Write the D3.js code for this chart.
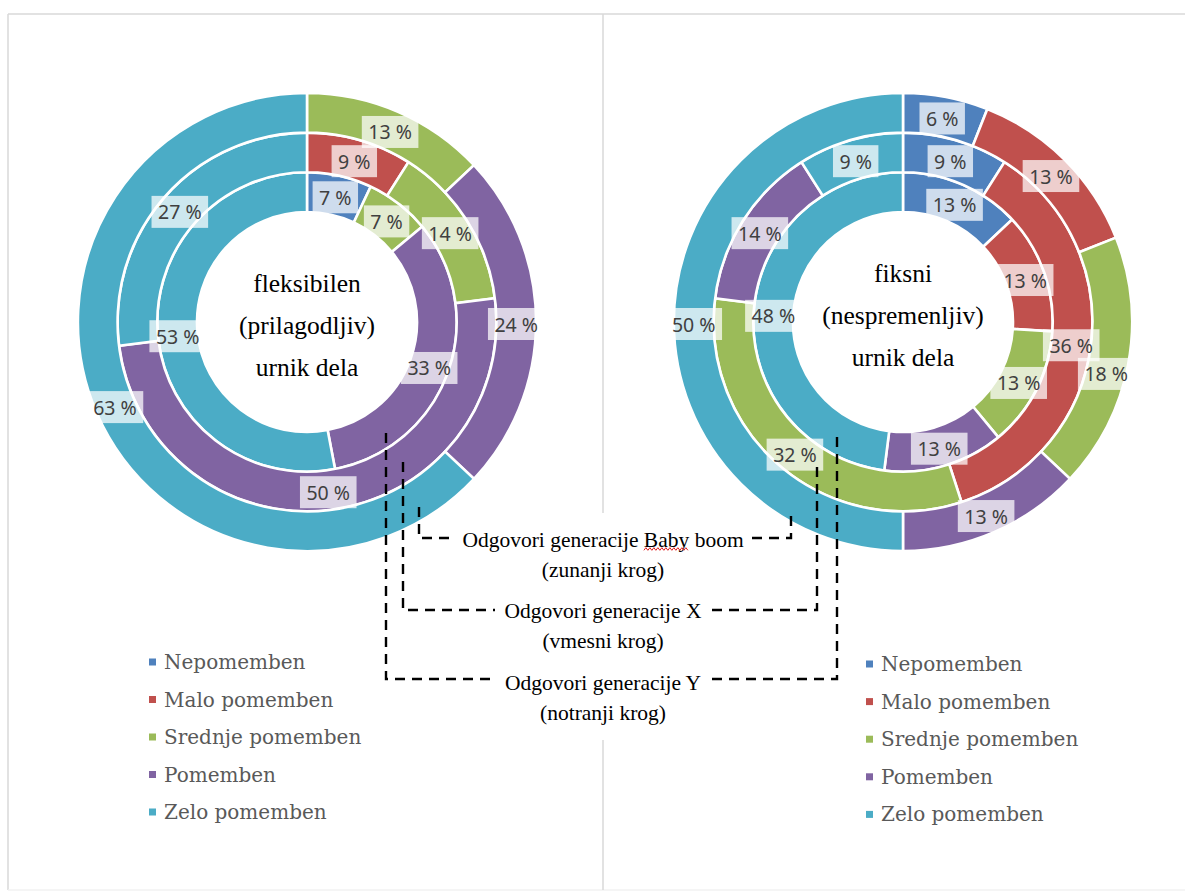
<!DOCTYPE html>
<html>
<head>
<meta charset="utf-8">
<script src="https://cdn.jsdelivr.net/npm/d3@7/dist/d3.min.js"></script>
<style>
  html, body { margin: 0; padding: 0; background: #fff; }
  svg { display: block; }
</style>
</head>
<body>
<svg id="chart" width="1185" height="895"></svg>
<script>
// Answer categories (legend order) and their colours
const categories = ["Nepomemben", "Malo pomemben", "Srednje pomemben", "Pomemben", "Zelo pomemben"];
const palette = ["#4F81BD", "#C0504D", "#9BBB59", "#8064A2", "#4BACC6"];

// Flexible working hours: shares (%) per generation, inner -> outer ring
const flexGenY = [7, 0, 7, 33, 53];
const flexGenX = [0, 9, 14, 50, 27];
const flexBabyBoom = [0, 0, 13, 24, 63];

// Fixed working hours: shares (%) per generation, inner -> outer ring
const fixedGenY = [13, 13, 13, 13, 48];
const fixedGenX = [9, 36, 32, 14, 9];
const fixedBabyBoom = [6, 13, 18, 13, 50];

// Text in the hole of each doughnut
const flexTitle = ["fleksibilen", "(prilagodljiv)", "urnik dela"];
const fixedTitle = ["fiksni", "(nespremenljiv)", "urnik dela"];

// Ring annotations (outer, middle, inner)
const ringNotes = [
  ["Odgovori generacije Baby boom", "(zunanji krog)"],
  ["Odgovori generacije X", "(vmesni krog)"],
  ["Odgovori generacije Y", "(notranji krog)"]
];

const svg = d3.select("#chart");

// ---- panel frame -------------------------------------------------------
const frame = svg.append("g").attr("stroke", "#d9d9d9").attr("stroke-width", 1.5);
frame.append("line").attr("x1", 8).attr("x2", 1185).attr("y1", 14).attr("y2", 14);
frame.append("line").attr("x1", 8).attr("x2", 8).attr("y1", 14).attr("y2", 890);
frame.append("line").attr("x1", 8).attr("x2", 1185).attr("y1", 890).attr("y2", 890).attr("stroke", "#f2f2f2");
frame.append("line").attr("x1", 603).attr("x2", 603).attr("y1", 14).attr("y2", 513);
frame.append("line").attr("x1", 603).attr("x2", 603).attr("y1", 740).attr("y2", 890);

// ---- doughnuts ---------------------------------------------------------
const holeR = 110, bandW = 39.7;
const pie = d3.pie().sort(null).value(d => d.v).startAngle(0).endAngle(2 * Math.PI);
const color = d3.scaleOrdinal().domain(categories).range(palette);

function drawDoughnut(cx, cy, rings, title, titleY) {
  const g = svg.append("g").attr("transform", `translate(${cx},${cy})`);
  const arcsG = g.append("g");
  const labelsG = g.append("g");
  const placed = [];

  rings.forEach((values, ri) => {
    const r0 = holeR + bandW * ri, r1 = r0 + bandW;
    const arc = d3.arc().innerRadius(r0).outerRadius(r1);
    const data = pie(values.map((v, i) => ({ v, cat: categories[i] })));
    arcsG.selectAll(null).data(data.filter(d => d.data.v > 0)).enter()
      .append("path")
      .attr("d", arc)
      .attr("fill", d => color(d.data.cat))
      .attr("stroke", "#fff")
      .attr("stroke-width", 2.6)
      .attr("stroke-linejoin", "miter");

    const rm = (r0 + r1) / 2;
    data.filter(d => d.data.v > 0).forEach(d => {
      const lg = labelsG.append("g");
      const box = lg.append("rect").attr("fill", "#fff").attr("fill-opacity", 0.72);
      const txt = lg.append("text")
        .attr("text-anchor", "middle")
        .attr("dominant-baseline", "central")
        .attr("font-family", "'Noto Sans', sans-serif")
        .attr("font-size", 19.5)
        .attr("fill", "#404040")
        .text(d.data.v + " %");
      const w = txt.node().getComputedTextLength() + 13, h = 32;
      // place at the band centre; slide along the band if it would cover a label
      let a = (d.startAngle + d.endAngle) / 2;
      let x, y, tries = 0;
      const overlaps = (x, y) => placed.some(p =>
        Math.min(x + w / 2, p.x + p.w / 2) - Math.max(x - w / 2, p.x - p.w / 2) > 4 &&
        Math.min(y + h / 2, p.y + p.h / 2) - Math.max(y - h / 2, p.y - p.h / 2) > 4);
      do {
        x = Math.sin(a) * rm; y = -Math.cos(a) * rm + 2;
        a += Math.PI / 360;
      } while (overlaps(x, y) && ++tries < 120);
      placed.push({ x, y, w, h });
      box.attr("x", x - w / 2).attr("y", y - h / 2).attr("width", w).attr("height", h);
      txt.attr("x", x).attr("y", y);
    });
  });

  g.append("text")
    .attr("text-anchor", "middle")
    .attr("font-family", "'Liberation Serif', 'Times New Roman', serif")
    .attr("font-size", 25.5)
    .attr("fill", "#000")
    .selectAll("tspan").data(title).enter().append("tspan")
    .attr("x", 0)
    .attr("y", (d, i) => titleY + i * 42)
    .text(d => d);
}

drawDoughnut(307, 322, [flexGenY, flexGenX, flexBabyBoom], flexTitle, -30);
drawDoughnut(903, 322, [fixedGenY, fixedGenX, fixedBabyBoom], fixedTitle, -40);

// ---- legends -----------------------------------------------------------
function drawLegend(x, y0, step) {
  const lg = svg.append("g");
  categories.forEach((c, i) => {
    const y = y0 + i * step;
    lg.append("rect").attr("x", x).attr("y", y - 3.5).attr("width", 7).attr("height", 7).attr("fill", color(c));
    lg.append("text")
      .attr("x", x + 15).attr("y", y)
      .attr("dominant-baseline", "central")
      .attr("font-family", "'DejaVu Serif', serif")
      .attr("font-size", 20)
      .attr("fill", "#595959")
      .text(c);
  });
}
drawLegend(149, 662, 37.5);
drawLegend(866, 664, 37.6);

// ---- ring annotations ---------------------------------------------------
const notesG = svg.append("g");
const dash = { stroke: "#000", "stroke-width": 2.4, "stroke-dasharray": "10,7", fill: "none" };
function dashed(points) {
  const p = notesG.append("path").attr("d", d3.line()(points));
  Object.entries(dash).forEach(([k, v]) => p.attr(k, v));
}
// outer ring bracket
dashed([[419, 507], [419, 538], [456, 538]]);
dashed([[752, 538], [791, 538], [791, 509]]);
// middle ring bracket
dashed([[403, 462], [403, 610], [495, 610]]);
dashed([[712, 610], [817, 610], [817, 462]]);
// inner ring bracket
dashed([[386, 433], [386, 679], [495, 679]]);
dashed([[712, 679], [837, 679], [837, 433]]);

const noteY = [540, 611, 683];
ringNotes.forEach((lines, k) => {
  const t = notesG.append("text")
    .attr("text-anchor", "middle")
    .attr("font-family", "'Liberation Serif', 'Times New Roman', serif")
    .attr("font-size", 21.5)
    .attr("fill", "#000");
  lines.forEach((s, i) => {
    t.append("tspan").attr("x", 603).attr("y", noteY[k] + i * 29.5).attr("dominant-baseline", "central").text(s);
  });
});

// spell-check squiggle under "Baby"
(function () {
  const first = notesG.select("text tspan").node();
  const full = ringNotes[0][0];
  const idx = full.indexOf("Baby");
  const textW = first.getComputedTextLength();
  const x0 = 603 - textW / 2 + first.getSubStringLength(0, idx);
  const w = first.getSubStringLength(idx, 4);
  const y = noteY[0] + 9;
  const pts = [];
  for (let x = 0, k = 0; x <= w; x += 2, k++) pts.push([x0 + x, y + (k % 2 ? -1.3 : 1.3)]);
  notesG.append("path").attr("d", d3.line()(pts)).attr("fill", "none").attr("stroke", "#e02020").attr("stroke-width", 1);
})();
</script>
</body>
</html>
